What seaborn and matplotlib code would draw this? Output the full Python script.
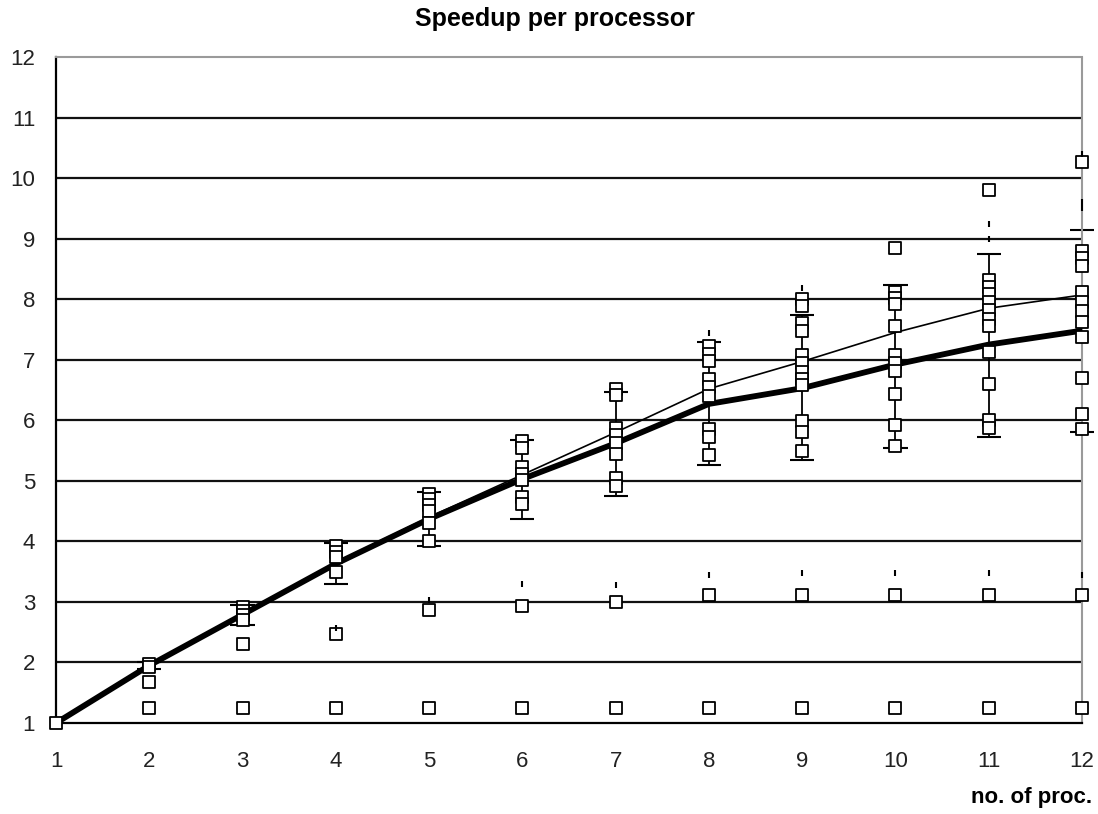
import numpy as np
import pandas as pd
import matplotlib
matplotlib.use("Agg")
import matplotlib.pyplot as plt
import seaborn as sns

# ---------------- data ----------------
procs = [1, 2, 3, 4, 5, 6, 7, 8, 9, 10, 11, 12]

runs_p1 = [1.00]
runs_p2 = [1.97, 1.93, 1.68, 1.25]
runs_p3 = [2.92, 2.85, 2.78, 2.70, 2.30, 1.25]
runs_p4 = [3.92, 3.82, 3.75, 3.50, 2.47, 1.25]
runs_p5 = [4.78, 4.70, 4.60, 4.50, 4.30, 4.00, 2.87, 1.25]
runs_p6 = [5.65, 5.55, 5.22, 5.12, 5.02, 4.73, 4.62, 2.93, 1.25]
runs_p7 = [6.52, 6.42, 5.88, 5.75, 5.62, 5.45, 5.05, 4.92, 3.00, 1.25]
runs_p8 = [7.22, 7.10, 6.98, 6.68, 6.55, 6.40, 5.85, 5.72, 5.42, 3.12, 1.25]
runs_p9 = [8.00, 7.88, 7.60, 7.48, 7.08, 6.95, 6.80, 6.68, 6.58, 5.98, 5.80, 5.50, 3.12, 1.25]
runs_p10 = [8.85, 8.12, 8.02, 7.92, 7.55, 7.08, 6.95, 6.82, 6.43, 5.92, 5.58, 3.12, 1.25]
runs_p11 = [9.80, 8.32, 8.20, 8.08, 7.95, 7.82, 7.68, 7.55, 7.12, 6.60, 6.00, 5.88, 3.12, 1.25]
runs_p12 = [10.27, 8.80, 8.68, 8.55, 8.12, 7.95, 7.80, 7.62, 7.38, 6.70, 6.10, 5.85, 3.12, 1.25]

speedup_thick = [1.00, 1.95, 2.79, 3.63, 4.37, 5.03, 5.62, 6.27, 6.53, 6.92, 7.25, 7.48]
speedup_thin = [1.00, 1.97, 2.81, 3.65, 4.40, 5.10, 5.80, 6.52, 6.97, 7.45, 7.85, 8.07]

err_procs = [2, 3, 4, 5, 6, 7, 8, 9, 10, 11, 12]
err_low = [1.90, 2.62, 3.30, 3.92, 4.37, 4.75, 5.26, 5.34, 5.54, 5.72, 5.80]
err_high = [2.00, 2.95, 3.98, 4.82, 5.67, 6.47, 7.29, 7.74, 8.24, 8.75, 9.14]

dot_procs = [4, 5, 6, 7, 8, 9, 10, 11, 12, 8, 9, 11, 11, 12, 12, 12]
dot_values = [2.57, 3.03, 3.30, 3.28, 3.45, 3.47, 3.47, 3.47, 3.44, 7.44, 8.18, 9.25, 9.00, 10.40, 9.60, 9.50]

y_ticks = [1, 2, 3, 4, 5, 6, 7, 8, 9, 10, 11, 12]
title_text = "Speedup per processor"
xlabel_text = "no. of proc."

# ---------------- build long table ----------------
all_runs = [runs_p1, runs_p2, runs_p3, runs_p4, runs_p5, runs_p6,
            runs_p7, runs_p8, runs_p9, runs_p10, runs_p11, runs_p12]
df_runs = pd.DataFrame({
    "proc": np.concatenate([[p] * len(r) for p, r in zip(procs, all_runs)]),
    "speedup": np.concatenate(all_runs),
})
df_lines = pd.DataFrame({"proc": procs, "thick": speedup_thick, "thin": speedup_thin})
df_dots = pd.DataFrame({"proc": dot_procs, "speedup": dot_values})

# ---------------- style ----------------
sns.set_theme(style="white")
narrow = ["Liberation Sans Narrow", "Liberation Sans", "DejaVu Sans"]
plt.rcParams["font.family"] = narrow

fig = plt.figure(figsize=(10.98, 8.14), dpi=100)
ax = fig.add_axes([56 / 1098, 91 / 814, 1026 / 1098, 666 / 814])

# grid lines
for yv in y_ticks[1:-1]:
    ax.axhline(yv, color="#111111", lw=1.6, zorder=1)

# error bars
ax.vlines(err_procs, err_low, err_high, color="black", lw=1.3, zorder=2)
ax.hlines(err_low, np.array(err_procs) - 0.13, np.array(err_procs) + 0.13, color="black", lw=1.5, zorder=2, clip_on=False)
ax.hlines(err_high, np.array(err_procs) - 0.13, np.array(err_procs) + 0.13, color="black", lw=1.5, zorder=2, clip_on=False)

# lines
sns.lineplot(data=df_lines, x="proc", y="thin", color="black", lw=1.2, ax=ax, zorder=3)
sns.lineplot(data=df_lines, x="proc", y="thick", color="black", lw=4.2, ax=ax, zorder=4)

# squares
sns.scatterplot(data=df_runs, x="proc", y="speedup", marker="s", s=78,
                facecolor="white", edgecolor="black", linewidth=1.3, ax=ax, zorder=5,
                clip_on=False)
sns.scatterplot(data=df_dots, x="proc", y="speedup", marker="|", s=25,
                color="black", linewidth=1.5, ax=ax, zorder=5, clip_on=False)

ax.set_xlim(1, 12)
ax.set_ylim(1, 12)
ax.set_xticks(procs)
ax.set_yticks(y_ticks)
ax.set_xlabel("")
ax.set_ylabel("")
ax.tick_params(axis="both", direction="out", length=9, width=1.3, color="black",
               labelsize=16, labelcolor="#222222", pad=6)
ax.tick_params(axis="x", pad=11)

for side in ["left", "bottom"]:
    ax.spines[side].set_color("black")
    ax.spines[side].set_linewidth(1.6)
for side in ["top", "right"]:
    ax.spines[side].set_color("#9a9a9a")
    ax.spines[side].set_linewidth(1.5)
    ax.spines[side].set_linestyle((0, (1, 1)))

fig.text(555 / 1098, 1 - 19 / 814, title_text, ha="center", va="center",
         fontsize=18, fontweight="bold", family=narrow, color="black")
fig.text(1092 / 1098, 1 - 797 / 814, xlabel_text, ha="right", va="center",
         fontsize=16, fontweight="bold", family=narrow, color="black")

fig.savefig("out.png", dpi=100)
